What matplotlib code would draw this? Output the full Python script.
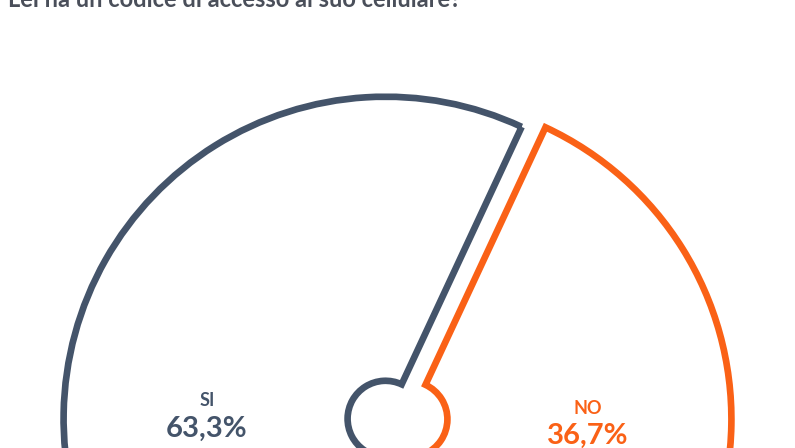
import matplotlib
matplotlib.use("Agg")
from matplotlib import pyplot as plt
import numpy as np

# data
labels = ["NO", "SI"]
values = [36.7, 63.3]
colors = ["#FA6116", "#44546A"]
title = "Lei ha un codice di accesso al suo cellulare?"

plt.rcParams['font.family'] = ['Lato', 'DejaVu Sans']

fig = plt.figure(figsize=(7.95, 4.48), dpi=100)
ax = fig.add_axes([0, 0, 1, 1])

wedges, _ = ax.pie(
    values,
    colors=colors,
    startangle=65,
    counterclock=False,
    explode=[0.037, 0.037],
    wedgeprops=dict(width=0.882, facecolor="none", linewidth=4.8, joinstyle="miter"),
)
for w, c in zip(wedges, colors):
    w.set_edgecolor(c)
    w.set_facecolor("none")

# labels inside each slice
for w, lab, val, c in zip(wedges, labels, values, colors):
    mid = np.deg2rad((w.theta1 + w.theta2) / 2)
    cx, cy = w.center
    x = cx + 0.555 * np.cos(mid)
    y = cy + 0.555 * np.sin(mid)
    ax.text(x, y + 0.045, lab, ha="center", va="center", fontsize=13,
            fontweight="bold", color=c)
    ax.text(x, y - 0.04, f"{val:.1f}%".replace(".", ","), ha="center", va="center",
            fontsize=21, fontweight="bold", color=c)

ax.set_aspect("auto")
ax.set_xlim(-1.2345, 1.2345)
ax.set_ylim(-0.090, 1.301)
ax.axis("off")

# title is cut off at the top edge, as in the reference
fig.text(0.01, 1 - 7 / 448, title, ha="left", va="baseline", fontsize=17,
         fontweight="bold", color="#4A4F5A")

fig.savefig("out.png", dpi=100)
